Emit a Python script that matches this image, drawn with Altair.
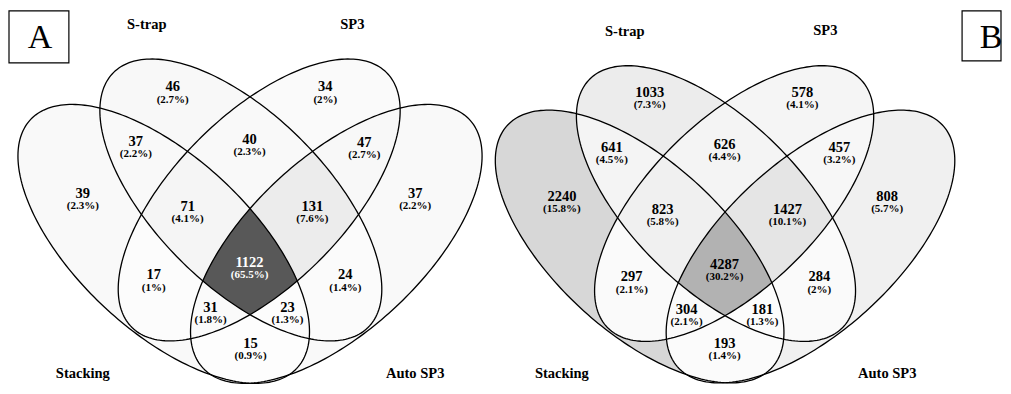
import numpy as np
import pandas as pd
import altair as alt

# ---------------- data ----------------
SETS = ["Stacking", "S-trap", "SP3", "Auto SP3"]
MEMBERS = [(0,), (1,), (2,), (3,), (0, 1), (0, 2), (0, 3), (1, 2), (1, 3), (2, 3),
           (0, 1, 2), (0, 1, 3), (0, 2, 3), (1, 2, 3), (0, 1, 2, 3)]
COUNTS_A = [39, 46, 34, 37, 37, 17, 15, 40, 24, 47, 71, 23, 31, 131, 1122]
PCT_A = [2.3, 2.7, 2, 2.2, 2.2, 1, 0.9, 2.3, 1.4, 2.7, 4.1, 1.3, 1.8, 7.6, 65.5]
COUNTS_B = [2240, 1033, 578, 808, 641, 297, 193, 626, 284, 457, 823, 181, 304, 1427, 4287]
PCT_B = [15.8, 7.3, 4.1, 5.7, 4.5, 2.1, 1.4, 4.4, 2.0, 3.2, 5.8, 1.3, 2.1, 10.1, 30.2]
PANELS = ["A", "B"]

# ---------------- layout (reference pixel space) ----------------
# ellipse shapes (outer = Stacking, inner = S-trap), mirrored for SP3 / Auto SP3
AXIS0, TOP0 = 725.5, 106.0
OUTER = (639.9, 253.6, 181.3, 86.3, 43.3)   # cx, cy, a, b, angle
INNER = (716.4, 209.7, 179.3, 85.0, 45.3)
PANEL_TF = {"A": (249.5, 100.0, 1 / 0.99, 1 / 0.978), "B": (725.5, 106.0, 1.0, 1.0)}
LAB = {
    "A": [(82, 200), (172, 91), (325, 91), (415, 200), (135, 147), (153, 283), (250, 353),
          (249, 145), (345, 283), (364, 148), (187, 213), (287, 316), (210, 316), (312, 213), (249, 270)],
    "B": [(562, 203), (650, 97), (803, 97), (888, 203), (612, 153), (632, 285), (725, 353),
          (725, 150), (820, 285), (840, 153), (663, 216), (763, 318), (687, 318), (788, 216), (725, 272)],
}
SETLAB = {
    "A": [(82, 384), (146, 27), (352, 27), (415, 384)],
    "B": [(562, 384), (625, 34), (826, 33), (888, 384)],
}
BOX = {"A": (8, 13, 68, 66, 39, 41), "B": (963, 13, 1002, 64, 992, 41)}
PCT_DY = 12.5
FONT = "Liberation Serif"


def ellipse_poly(cx, cy, a, b, ang, n=240):
    t = np.linspace(0, 2 * np.pi, n, endpoint=False)
    c, s = np.cos(np.radians(ang)), np.sin(np.radians(ang))
    x = cx + a * np.cos(t) * c - b * np.sin(t) * s
    y = cy + a * np.cos(t) * s + b * np.sin(t) * c
    return np.column_stack([x, y])


def shoelace(p):
    return 0.5 * np.sum(p[:, 0] * np.roll(p[:, 1], -1) - np.roll(p[:, 0], -1) * p[:, 1])


def clip(subj, clipper):
    sgn = 1.0 if shoelace(clipper) > 0 else -1.0
    out = subj
    m = len(clipper)
    for k in range(m):
        if len(out) == 0:
            break
        a = clipper[k]
        b = clipper[(k + 1) % m]
        s = sgn * ((b[0] - a[0]) * (out[:, 1] - a[1]) - (b[1] - a[1]) * (out[:, 0] - a[0]))
        ins = s >= 0
        nxt = np.roll(out, -1, axis=0)
        sn = np.roll(s, -1)
        crs = ins != np.roll(ins, -1)
        den = np.where(crs, s - sn, 1.0)
        t = np.where(crs, s / den, 0.0)
        ip = out + t[:, None] * (nxt - out)
        stacked = np.stack([out, ip], axis=1)
        mask = np.stack([ins, crs], axis=1)
        out = stacked[mask]
    return out


def ellipses_for(panel):
    ox, oy, kx, ky = PANEL_TF[panel]
    specs = [
        OUTER,
        INNER,
        (2 * AXIS0 - INNER[0], INNER[1], INNER[2], INNER[3], 180 - INNER[4]),
        (2 * AXIS0 - OUTER[0], OUTER[1], OUTER[2], OUTER[3], 180 - OUTER[4]),
    ]
    res = []
    for sp in specs:
        p = ellipse_poly(*sp)
        p[:, 0] = ox + kx * (p[:, 0] - AXIS0)
        p[:, 1] = oy + ky * (p[:, 1] - TOP0)
        res.append(p)
    return res


poly_rows = []
outline_rows = []
text_rows = []
for panel in PANELS:
    counts = COUNTS_A if panel == "A" else COUNTS_B
    pcts = PCT_A if panel == "A" else PCT_B
    ells = ellipses_for(panel)
    for si, e in enumerate(ells):
        pts = np.vstack([e, e[:1]])
        for i, (x, y) in enumerate(pts):
            outline_rows.append(dict(oid=f"{panel}-{si}", i=i, x=x, y=y))
    for ri, mem in enumerate(MEMBERS):
        poly = ells[mem[0]]
        for j in mem[1:]:
            poly = clip(poly, ells[j])
        for i, (x, y) in enumerate(poly):
            poly_rows.append(dict(rid=f"{panel}-{ri}", size=len(mem), i=i, x=x, y=y, pct=pcts[ri]))
        lx, ly = LAB[panel][ri]
        text_rows.append(dict(x=lx, y=ly, label=str(counts[ri]), pct=pcts[ri], kind="count"))
        text_rows.append(dict(x=lx, y=ly + PCT_DY, label=f"({pcts[ri]:g}%)", pct=pcts[ri], kind="pct"))

poly_df = pd.DataFrame(poly_rows)
outline_df = pd.DataFrame(outline_rows)
text_df = pd.DataFrame(text_rows)
setlab_df = pd.DataFrame([dict(x=SETLAB[p][k][0], y=SETLAB[p][k][1], label=SETS[k])
                          for p in PANELS for k in range(4)])
box_df = pd.DataFrame([dict(x=BOX[p][0], y=BOX[p][1], x2=BOX[p][2], y2=BOX[p][3],
                            lx=BOX[p][4], ly=BOX[p][5], label=p) for p in PANELS])

XS = alt.Scale(domain=[8, 1003], nice=False, zero=False)
YS = alt.Scale(domain=[10, 394], nice=False, zero=False, reverse=True)
X = alt.X("x:Q", scale=XS, axis=None)
Y = alt.Y("y:Q", scale=YS, axis=None)
FILL = alt.Fill("pct:Q", scale=alt.Scale(domain=[0, 100], range=["#ffffff", "#000000"],
                                          interpolate="rgb"), legend=None)

layers = []
for k in range(1, 5):
    layers.append(
        alt.Chart(poly_df[poly_df["size"] == k]).mark_line(strokeWidth=0, strokeOpacity=0).encode(
            x=X, y=Y, fill=FILL, detail="rid:N", order="i:Q"
        )
    )

layers.append(
    alt.Chart(outline_df).mark_line(color="black", strokeWidth=1.3).encode(
        x=X, y=Y, detail="oid:N", order="i:Q"
    )
)

tcolor = alt.condition(alt.datum.pct > 40, alt.value("white"), alt.value("black"))
layers.append(
    alt.Chart(text_df[text_df["kind"] == "count"]).mark_text(
        font=FONT, fontSize=14.5, fontWeight="bold", baseline="middle", align="center"
    ).encode(x=X, y=Y, text="label:N", color=tcolor)
)
layers.append(
    alt.Chart(text_df[text_df["kind"] == "pct"]).mark_text(
        font=FONT, fontSize=11, fontWeight="bold", baseline="middle", align="center"
    ).encode(x=X, y=Y, text="label:N", color=tcolor)
)
layers.append(
    alt.Chart(setlab_df).mark_text(
        font=FONT, fontSize=14.5, fontWeight="bold", baseline="middle", align="center", color="black"
    ).encode(x=X, y=Y, text="label:N")
)
layers.append(
    alt.Chart(box_df).mark_rect(fill="transparent", stroke="black", strokeWidth=1.2).encode(
        x=X, y=Y, x2="x2:Q", y2="y2:Q"
    )
)
layers.append(
    alt.Chart(box_df).mark_text(
        font=FONT, fontSize=34, baseline="middle", align="center", color="black"
    ).encode(x=alt.X("lx:Q", scale=XS, axis=None), y=alt.Y("ly:Q", scale=YS, axis=None),
             text="label:N")
)

chart = alt.layer(*layers).properties(
    width=995, height=378, padding=0,
    autosize=alt.AutoSizeParams(type="fit", contains="padding"),
).configure_view(strokeWidth=0)

chart.save("out.html", embed_options={"renderer": "svg", "actions": False})
